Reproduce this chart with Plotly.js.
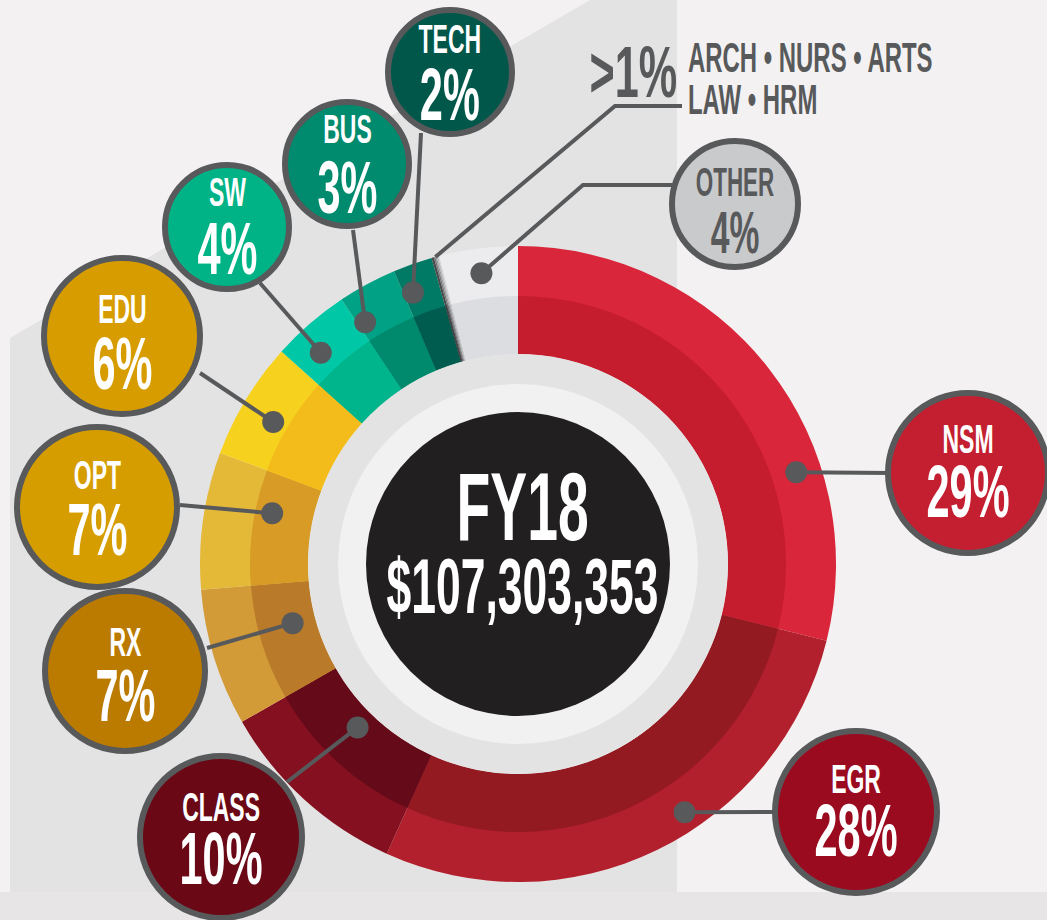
<!DOCTYPE html>
<html><head><meta charset="utf-8">
<script src="https://cdn.plot.ly/plotly-3.0.1.min.js"></script>
<style>html,body{margin:0;padding:0;background:#f3f1f2;overflow:hidden}#chart{width:1047px;height:920px}</style>
</head><body><div id="chart"></div>
<script>
// ---------- DATA ----------
const categories  = ['NSM','EGR','CLASS','RX','OPT','EDU','SW','BUS','TECH','ARCH','NURS','ARTS','LAW','HRM','OTHER'];
const shares      = [29, 28, 10, 7, 7, 6, 4, 3, 2, 0.12, 0.08, 0.07, 0.07, 0.06, 4];
const shareLabels = ['29%','28%','10%','7%','7%','6%','4%','3%','2%','','','','','','4%'];
const fiscalYear   = 'FY18';
const totalFunding = '$107,303,353';
const smallGroupLabel = '>1%';
const smallGroupNames = ['ARCH • NURS • ARTS', 'LAW • HRM'];
const smallGroupMembers = ['ARCH','NURS','ARTS','LAW','HRM'];

// ---------- STYLE / LAYOUT ----------
const W = 1047, H = 920;
const CX = 518, CY = 564;
const R_OUT = 318, R_MID = 268, R_IN = 210, R_GRAY = 210, R_WHITE = 180, R_BLACK = 152;
const outerColors = ['#d9263b','#b3202d','#851020','#d29b38','#e4b938','#f6d21f','#00c8a6','#00a184','#007a64','#4a4a4c','#77787a','#9c9d9f','#bcbdbf','#d4d5d7','#ececee'];
const innerColors = ['#c51d2e','#941a22','#640a18','#b97a2a','#d79b26','#f3bc1b','#00b48b','#008a6d','#005c4f','#444446','#6e6f71','#939496','#b3b4b6','#cbccce','#dcdde0'];
const INK = '#58595b';
const FONT = 'Liberation Sans, Arial, sans-serif';
const SX = 0.56; // horizontal condensing of the bold type

// bubble placement (pixels): centre, radius, fill, cap-centre offsets of the two text lines,
// where the leader meets it, where along its slice the dot sits (fraction) and at what radius
const bubbles = {
  NSM:   {cx:968, cy:473, r:80, fill:'#c41f30', ly:-34, py:18, attach:[[892,473]], frac:0.69, dotR:293},
  EGR:   {cx:856, cy:812, r:81, fill:'#9b0b20', ly:-33, py:18, attach:[[775,812]], frac:0.42, dotR:299},
  CLASS: {cx:221, cy:837, r:81, fill:'#6a0815', ly:-30, py:21, attach:[[287,782]], frac:0.56, dotR:229},
  RX:    {cx:125, cy:671, r:80, fill:'#bb7a00', ly:-29, py:24, attach:[[207,648]], frac:0.60, dotR:233},
  OPT:   {cx:97,  cy:507, r:80, fill:'#d69d00', ly:-32, py:22, attach:[[180,505]], frac:0.65, dotR:251},
  EDU:   {cx:122, cy:336, r:78, fill:'#d79c00', ly:-27, py:27, attach:[[200,373]], frac:0.45, dotR:283},
  SW:    {cx:227, cy:227, r:62, fill:'#00b386', ly:-35, py:21, attach:[[260,283]], frac:0.35, dotR:289},
  BUS:   {cx:347, cy:164, r:62, fill:'#008a6e', ly:-35, py:23, attach:[[353,230]], frac:0.13, dotR:286},
  TECH:  {cx:450, cy:72,  r:62, fill:'#00574a', ly:-33, py:22, attach:[[421,133]], frac:0.25, dotR:291},
  OTHER: {cx:735, cy:204, r:63, fill:'#c9cacc', ly:-22, py:28, attach:[[583,185],[672,185]], frac:0.5, dotR:293, ink:INK, small:true}
};
const groupElbow = [[615,106],[682,106]];

// ---------- helpers ----------
const px = x => x / W;
const py = y => 1 - y / H;
const total = shares.reduce((a,b)=>a+b,0);
const cum = []; { let c = 0; shares.forEach(v => { cum.push(c); c += v; }); }
function polar(theta, r){ const t = theta*Math.PI/180; return [CX + r*Math.sin(t), CY - r*Math.cos(t)]; }
function dom(r){ return {x:[px(CX-r), px(CX+r)], y:[py(CY+r), py(CY-r)]}; }
function circ(cx, cy, r, fill, line){ return {type:'circle', xref:'paper', yref:'paper', x0:px(cx-r), x1:px(cx+r), y0:py(cy+r), y1:py(cy-r), fillcolor:fill, line:line||{width:0}}; }
function pathOf(pts){ return pts.map((p,i)=>(i?'L':'M')+px(p[0])+','+py(p[1])).join(' '); }

// ---------- traces ----------
const data = [
  {type:'pie', labels:categories, values:shares, sort:false, direction:'clockwise', rotation:0,
   hole:R_IN/R_OUT, domain:dom(R_OUT), marker:{colors:outerColors, line:{width:0}},
   textinfo:'none', hoverinfo:'none', showlegend:false},
  {type:'pie', labels:categories, values:shares, sort:false, direction:'clockwise', rotation:0,
   hole:R_IN/R_MID, domain:dom(R_MID), marker:{colors:innerColors, line:{width:0}},
   textinfo:'none', hoverinfo:'none', showlegend:false}
];

// ---------- shapes ----------
const shapes = [];
shapes.push({type:'path', layer:'below', xref:'paper', yref:'paper', path:pathOf([[10,892],[10,338],[590,0],[677,0],[677,892]])+' Z', fillcolor:'#e4e3e3', line:{width:0}});
shapes.push({type:'rect', layer:'below', xref:'paper', yref:'paper', x0:0, x1:1, y0:py(920), y1:py(892), fillcolor:'#e7e5e5', line:{width:0}});
shapes.push(circ(CX, CY, R_GRAY, '#e3e3e3'));
shapes.push(circ(CX, CY, R_WHITE, '#f1f1f1'));
shapes.push(circ(CX, CY, R_BLACK, '#221f20'));

const dots = [];
const leaderLines = [];
Object.keys(bubbles).forEach(k => {
  const b = bubbles[k], i = categories.indexOf(k);
  const theta = (cum[i] + b.frac*shares[i]) / total * 360;
  const d = polar(theta, b.dotR);
  leaderLines.push({type:'path', xref:'paper', yref:'paper', path:pathOf([d].concat(b.attach)), line:{color:INK, width:4}});
  dots.push(circ(d[0], d[1], 11, INK));
});
{
  const i0 = categories.indexOf(smallGroupMembers[0]);
  const i1 = categories.indexOf(smallGroupMembers[smallGroupMembers.length-1]);
  const theta = (cum[i0] + (cum[i1]+shares[i1]-cum[i0])/2) / total * 360;
  const p = polar(theta, R_OUT);
  leaderLines.push({type:'path', xref:'paper', yref:'paper', path:pathOf([p].concat(groupElbow)), line:{color:INK, width:4}});
}
shapes.push(...leaderLines);
Object.keys(bubbles).forEach(k => { const b = bubbles[k]; shapes.push(circ(b.cx, b.cy, b.r, b.fill, {color:INK, width:6})); });
shapes.push(...dots);

// ---------- annotations ----------
const ASC = 0.905, DESC = 0.212, CAPMID = 0.36, LS = 1.3;
const annotations = [];
const annScale = [];
function ann(text, x, y, size, color, xanchor, sx){
  annotations.push({text:text, x:px(x), y:py(y), xref:'paper', yref:'paper', xanchor:xanchor||'center', yanchor:'middle',
    showarrow:false, font:{family:FONT, size:size, color:color, weight:700}});
  annScale.push(sx||SX);
}
// two lines of different sizes in one text; capY1/capY2 are the cap centres wanted
function ann2(t1, s1, t2, s2, x, capY1, capY2, color, xanchor, sx){
  const b1 = capY1 + CAPMID*s1, b2 = capY2 + CAPMID*s2;
  const base = (b2 - b1) / LS;
  const mid = ((b1 - ASC*s1) + (b2 + DESC*s2)) / 2;
  annotations.push({text:'<span style="font-size:'+s1+'px">'+t1+'</span><br><span style="font-size:'+s2+'px">'+t2+'</span>',
    x:px(x), y:py(mid), xref:'paper', yref:'paper', xanchor:xanchor||'center', yanchor:'middle', align:xanchor||'center',
    showarrow:false, font:{family:FONT, size:base, color:color, weight:700}});
  annScale.push(sx||SX);
}
Object.keys(bubbles).forEach(k => {
  const b = bubbles[k], i = categories.indexOf(k);
  ann2(k, b.small ? 40 : 41, shareLabels[i], b.small ? 60 : 74, b.cx, b.cy + b.ly, b.cy + b.py, b.ink || '#ffffff');
});
ann2(fiscalYear, 97, totalFunding, 78, CX + 4, 505, 585, '#ffffff', 'center', 0.57);
ann(smallGroupLabel, 679, 72, 72, INK, 'right', 0.6);
ann2(smallGroupNames[0], 42, smallGroupNames[1], 42, 686, 57, 99, INK, 'left', 0.57);

const layout = {
  width:W, height:H, margin:{l:0,r:0,t:0,b:0},
  paper_bgcolor:'#f3f1f2', plot_bgcolor:'#f3f1f2',
  showlegend:false, shapes:shapes, annotations:annotations
};

Plotly.newPlot('chart', data, layout, {staticPlot:true, displayModeBar:false}).then(gd => {
  gd.querySelectorAll('g.annotation').forEach(g => {
    const i = +g.getAttribute('data-index');
    const t = g.querySelector('text.annotation-text');
    if (!t) return;
    const bb = t.getBBox();
    const xa = annotations[i].xanchor;
    const ax = xa === 'left' ? bb.x : (xa === 'right' ? bb.x + bb.width : bb.x + bb.width/2);
    const s = annScale[i];
    const prev = t.getAttribute('transform') || '';
    t.setAttribute('transform', prev + ' translate(' + ax + ' 0) scale(' + s + ' 1) translate(' + (-ax) + ' 0)');
  });
});
</script></body></html>
